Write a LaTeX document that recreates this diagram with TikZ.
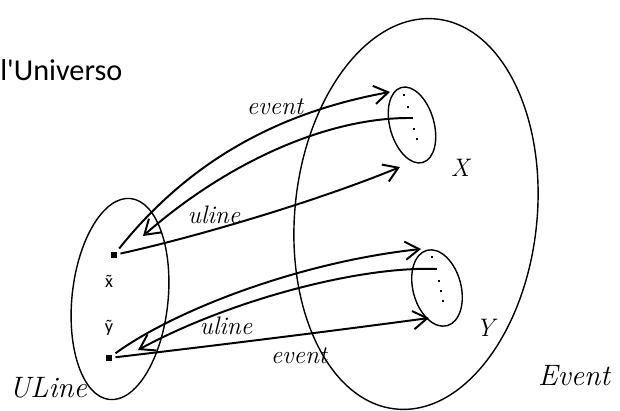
\documentclass[tikz,border=0pt]{standalone}
\usepackage{fontspec}
\newfontfamily\calibri{Carlito}
\usetikzlibrary{arrows.meta,shapes.geometric,positioning}
\newcommand{\contilde}[1]{\ooalign{#1\cr\hidewidth\char"02DC\hidewidth\cr}}

\begin{document}
\begin{tikzpicture}[
    x=0.025cm, y=0.025cm,
    ell/.style={draw, ellipse, line width=1pt, inner sep=0pt},
    pnt/.style={fill=black, inner sep=0pt, minimum size=4.2pt, outer sep=2.5pt},
    dot/.style={fill=black, inner sep=0pt, minimum size=2pt},
    arr/.style={-{Straight Barb[length=10pt,width=13pt]}, line width=1.4pt},
    lbl/.style={font=\fontsize{18}{20}\selectfont\itshape, inner sep=0pt},
    biglbl/.style={font=\fontsize{21}{24}\selectfont\itshape, inner sep=0pt},
    sub/.style={font=\calibri\fontsize{13}{15}\selectfont, inner sep=0pt}
]
\useasboundingbox (0,0) rectangle (620,410);

% insiemi
\node[ell, minimum width=6.05cm, minimum height=9.8cm, rotate=-6] (Event) at (416,196) {};
\node[ell, minimum width=2.4cm, minimum height=5.05cm, rotate=-6] (ULine) at (120,111) {};
\node[ell, minimum width=1.1cm, minimum height=1.95cm, rotate=16] (X) at (412,285) {};
\node[ell, minimum width=1.2cm, minimum height=1.95cm, rotate=15] (Y) at (437,122) {};

% punti
\node[pnt] (xpt) at (114,155) {};
\node[pnt] (ypt) at (109,52) {};
\foreach \n/\px/\py in {1/404/315, 2/408/303, 3/412/292, 4/414/281, 5/417/271}
    \node[dot] (X\n) at (\px,\py) {};
\foreach \n/\px/\py in {1/432/153, 2/436/141, 3/439/129, 4/441/119, 5/443/109}
    \node[dot] (Y\n) at (\px,\py) {};

% testi
\node[anchor=base west, inner sep=0pt, font=\calibri\fontsize{21.5}{25}\selectfont] (univ) at (0,330) {l'Universo};
\node[sub] (xlbl) at (109,127) {\contilde{x}};
\node[sub] (ylbl) at (109,82) {\contilde{y}};
\node[biglbl] (ULinelbl) at (48,22) {ULine};
\node[biglbl] (Eventlbl) at (574,34) {Event};
\node[lbl] (Xlbl) at (460,242) {X};
\node[lbl] (Ylbl) at (485,82) {Y};
\node[lbl] (ev1) at (275,303) {event};
\node[lbl] (ul1) at (214,195) {uline};
\node[lbl] (ul2) at (226,84) {uline};
\node[lbl] (ev2) at (299,54) {event};

% estremi delle frecce
\coordinate (XinA) at (390,318);
\coordinate (XinC) at (400,243);
\coordinate (UinB) at (143,174);
\coordinate (YinD) at (421,161);
\coordinate (YinF) at (429,92);
\coordinate (UinE) at (138,60);

\draw[arr] (xpt) .. controls (190,250) and (280,298) .. (XinA);
\draw[arr] (X3.center) .. controls (330,293) and (230,250) .. (UinB);
\draw[arr] (xpt) .. controls (200,174) and (320,210) .. (XinC);
\draw[arr] (ypt) .. controls (175,100) and (300,148) .. (YinD);
\draw[arr] (Y2.center) .. controls (360,144) and (230,110) .. (UinE);
\draw[arr] (ypt) .. controls (220,65) and (340,80) .. (YinF);
\end{tikzpicture}
\end{document}
